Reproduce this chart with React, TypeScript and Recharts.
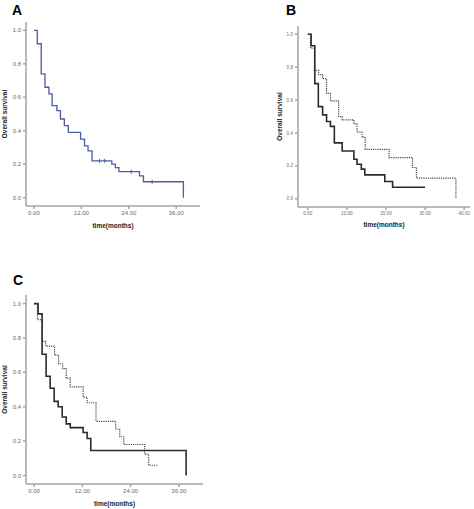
import React from "react";
import { LineChart, Line, XAxis, YAxis } from "recharts";

// Panel A: all patients
const A_TIME = [0, 0.85, 1.85, 2.8, 3.8, 4.6, 5.8, 6.7, 7.7, 8.7, 11.8, 12.8, 13.7, 14.7, 19.7, 20.6, 21.5, 26.7, 27.7, 37.8];
const A_SURV = [1.0, 0.92, 0.74, 0.66, 0.62, 0.55, 0.52, 0.47, 0.43, 0.39, 0.35, 0.31, 0.28, 0.22, 0.2, 0.18, 0.155, 0.13, 0.095, 0];
const A_CENSORED = [16.6, 17.9, 24.6, 29.9];

// Panel B
const B_SOLID_TIME = [0, 0.85, 1.8, 2.7, 3.8, 4.8, 5.8, 6.8, 8.8, 11.8, 12.6, 13.7, 14.6, 19.7, 21.7, 30.0];
const B_SOLID_SURV = [1.0, 0.93, 0.7, 0.56, 0.51, 0.47, 0.44, 0.34, 0.29, 0.24, 0.21, 0.18, 0.145, 0.105, 0.07, 0.07];
const B_DOT_TIME = [0, 0.7, 1.7, 2.8, 3.8, 4.8, 5.8, 7.9, 8.8, 11.8, 12.6, 13.9, 14.7, 20.8, 26.8, 27.8, 37.9];
const B_DOT_SURV = [1.0, 0.915, 0.78, 0.755, 0.73, 0.64, 0.595, 0.5, 0.48, 0.455, 0.405, 0.375, 0.3, 0.25, 0.19, 0.125, 0];

// Panel C
const C_SOLID_TIME = [0, 1.0, 2.0, 3.0, 4.0, 5.0, 6.0, 7.0, 8.0, 9.0, 12.2, 13.2, 14.1, 37.8];
const C_SOLID_SURV = [1.0, 0.94, 0.705, 0.577, 0.507, 0.431, 0.4, 0.34, 0.3, 0.278, 0.25, 0.215, 0.145, 0];
const C_DOT_TIME = [0, 0.85, 2.0, 2.9, 5.1, 6.1, 7.1, 8.0, 9.0, 12.2, 13.2, 15.4, 20.3, 21.3, 22.3, 27.5, 28.5, 30.8];
const C_DOT_SURV = [1.0, 0.906, 0.78, 0.753, 0.7, 0.65, 0.622, 0.566, 0.515, 0.456, 0.423, 0.315, 0.27, 0.225, 0.18, 0.123, 0.059, 0.059];

const TICKS_12 = [0, 12, 24, 36];
const TICKS_10 = [0, 10, 20, 30, 40];
const Y_TICKS = [0, 0.2, 0.4, 0.6, 0.8, 1.0];

const FONT = "'Liberation Sans', Arial, sans-serif";
const AXIS = "#a3a3a3";

type Pt = { t: number; s: number; c?: boolean };

function km(times: number[], surv: number[], censored: number[] = []): Pt[] {
  const pts: Pt[] = times.map((t, i) => ({ t, s: surv[i] }));
  censored.forEach(c => {
    let s = surv[0];
    times.forEach((t, i) => { if (t <= c) s = surv[i]; });
    pts.push({ t: c, s, c: true });
  });
  return pts.sort((a, b) => a.t - b.t);
}

const censorDot = (color: string) => (p: any) => {
  const { cx, cy, payload, index } = p;
  if (!payload || !payload.c) return <g key={index} />;
  return <line key={index} x1={cx} x2={cx} y1={cy - 2} y2={cy + 2} stroke={color} strokeWidth={1} />;
};

function Panel(props: {
  left: number; top: number; width: number; height: number;
  margin: { top: number; right: number; left: number; bottom: number };
  yWidth: number; xHeight: number; xDomain: [number, number]; xTicks: number[];
  tickFont: number; titleFont: number; yLabelOffset: number; xLabelOffset: number;
  series: { data: Pt[]; color: string; width: number; dash?: string }[];
}) {
  const p = props;
  return (
    <div style={{ position: "absolute", left: p.left, top: p.top }}>
      <LineChart width={p.width} height={p.height} margin={p.margin}>
        <XAxis
          dataKey="t" type="number" domain={p.xDomain} ticks={p.xTicks}
          tickFormatter={(v: number) => v.toFixed(2)} height={p.xHeight}
          stroke={AXIS} strokeWidth={1.5} tickSize={3} allowDataOverflow
          tick={{ fontSize: p.tickFont, fill: "#6b6b6b", fontFamily: FONT }}
          label={{ value: "time(months)", position: "insideBottom", offset: p.xLabelOffset,
            style: { fontSize: p.titleFont, fontWeight: "bold", fill: "#222", fontFamily: FONT } }}
        />
        <YAxis
          type="number" domain={[-0.05, 1.05]} ticks={Y_TICKS} width={p.yWidth}
          tickFormatter={(v: number) => v.toFixed(1)} stroke={AXIS} strokeWidth={1.5} tickSize={3}
          allowDataOverflow
          tick={{ fontSize: p.tickFont, fill: "#6b6b6b", fontFamily: FONT }}
          label={{ value: "Overall survival", angle: -90, position: "insideLeft", offset: p.yLabelOffset,
            style: { textAnchor: "middle", fontSize: p.titleFont, fontWeight: "bold", fill: "#222", fontFamily: FONT } }}
        />
        {p.series.map((s, i) => (
          <Line
            key={i} data={s.data} dataKey="s" type="stepAfter" stroke={s.color}
            strokeWidth={s.width} strokeDasharray={s.dash} dot={censorDot(s.color)}
            activeDot={false} isAnimationActive={false}
          />
        ))}
      </LineChart>
    </div>
  );
}

const letter = (ch: string, left: number, top: number) => (
  <div style={{ position: "absolute", left, top, fontFamily: FONT, fontWeight: "bold", fontSize: 14, lineHeight: "14px", color: "#000" }}>
    {ch}
  </div>
);

export default function App() {
  return (
    <div style={{ position: "absolute", left: 0, top: 0, width: 474, height: 509, background: "#fff", overflow: "hidden" }}>
      <Panel
        left={0} top={0} width={215} height={240}
        margin={{ top: 22, right: 15, left: 0, bottom: 0 }} yWidth={26} xHeight={34}
        xDomain={[-2, 42]} xTicks={TICKS_12} tickFont={6} titleFont={6.5}
        yLabelOffset={5} xLabelOffset={12}
        series={[{ data: km(A_TIME, A_SURV, A_CENSORED), color: "#4d5d9f", width: 1.3 }]}
      />
      <Panel
        left={270} top={0} width={204} height={240}
        margin={{ top: 26, right: 4, left: 0, bottom: 0 }} yWidth={28} xHeight={33}
        xDomain={[-2.5, 41.5]} xTicks={TICKS_10} tickFont={4.6} titleFont={6.5}
        yLabelOffset={10} xLabelOffset={13}
        series={[
          { data: km(B_DOT_TIME, B_DOT_SURV), color: "#4a4a4a", width: 1.2, dash: "1.2 1" },
          { data: km(B_SOLID_TIME, B_SOLID_SURV), color: "#2b2b2b", width: 1.6 },
        ]}
      />
      <Panel
        left={0} top={255} width={215} height={254}
        margin={{ top: 40, right: 12, left: 0, bottom: 0 }} yWidth={26} xHeight={25}
        xDomain={[-2, 42]} xTicks={TICKS_12} tickFont={6} titleFont={6.5}
        yLabelOffset={5} xLabelOffset={3}
        series={[
          { data: km(C_DOT_TIME, C_DOT_SURV), color: "#4a4a4a", width: 1.2, dash: "1.2 1" },
          { data: km(C_SOLID_TIME, C_SOLID_SURV), color: "#2b2b2b", width: 1.6 },
        ]}
      />
      {letter("A", 12, 3)}
      {letter("B", 286, 3)}
      {letter("C", 13, 273)}
    </div>
  );
}
